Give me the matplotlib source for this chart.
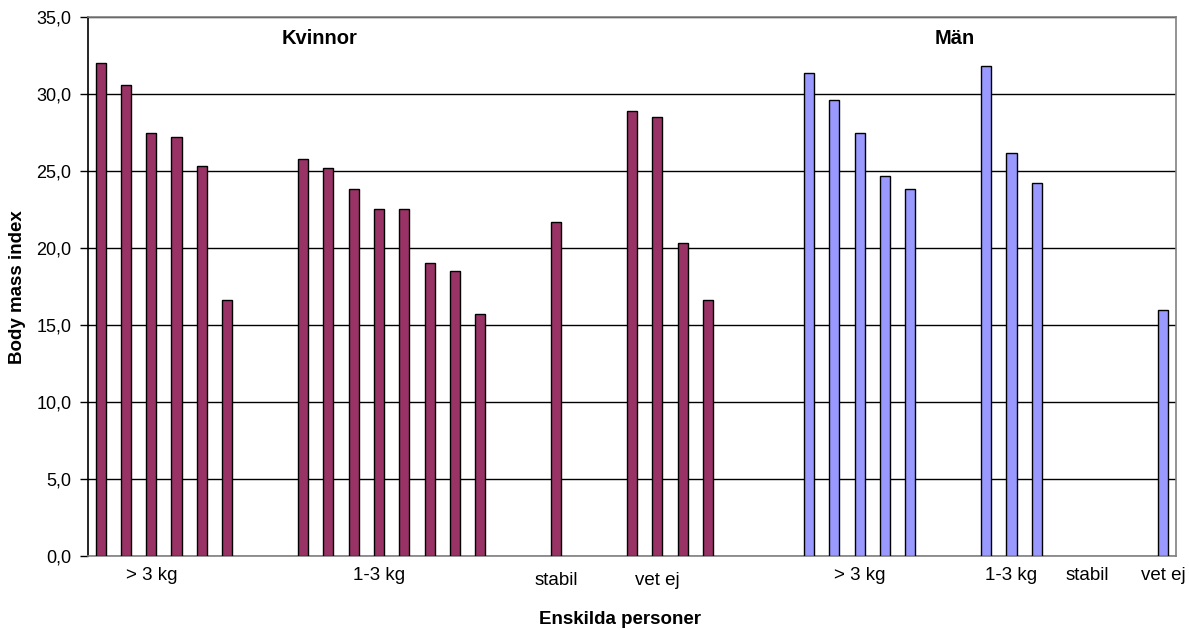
import matplotlib
matplotlib.use("Agg")
import matplotlib.pyplot as plt
import matplotlib.transforms as mtransforms
import numpy as np

plt.rcParams['font.family'] = ['Liberation Sans', 'DejaVu Sans']

# Body mass index per person, grouped by weight change (women, then men)
women_gt3 = [32.0, 30.6, 27.45, 27.2, 25.3, 16.6]
women_1to3 = [25.8, 25.2, 23.8, 22.55, 22.55, 19.0, 18.5, 15.7]
women_stable = [21.7]
women_unknown = [28.9, 28.5, 20.35, 16.6]
men_gt3 = [31.35, 29.6, 27.45, 24.7, 23.8]
men_1to3 = [31.8, 26.2, 24.2]
men_stable = []
men_unknown = [15.95]

group_names = ['> 3 kg', '1-3 kg', 'stabil', 'vet ej']

# Worksheet row layout: blank rows separate the groups
women_groups = [women_gt3, women_1to3, women_stable, women_unknown]
men_groups = [men_gt3, men_1to3, men_stable, men_unknown]
women_gaps = [2, 2, 2, 3]          # blank rows after each women's group
men_gaps = [2, 0, 0, 0]            # blank rows after each men's group
men_group_rows = [5, 3, 4, 1]      # rows used by each men's group
women_label_offsets = [2, 3, 0, 1]
men_label_offsets = [2, 1, 1, 0]

rows_sex, rows_val, category_labels = [], [], []
for grp, gap, name, lo in zip(women_groups, women_gaps, group_names, women_label_offsets):
    start = len(rows_val)
    for v in grp:
        rows_sex.append('F'); rows_val.append(v); category_labels.append('')
    for _ in range(gap):
        rows_sex.append(''); rows_val.append(np.nan); category_labels.append('')
    category_labels[start + lo] = name
for grp, gap, nrows, name, lo in zip(men_groups, men_gaps, men_group_rows,
                                     group_names, men_label_offsets):
    start = len(rows_val)
    for _ in range(nrows - len(grp)):
        rows_sex.append(''); rows_val.append(np.nan); category_labels.append('')
    for v in grp:
        rows_sex.append('M'); rows_val.append(v); category_labels.append('')
    for _ in range(gap):
        rows_sex.append(''); rows_val.append(np.nan); category_labels.append('')
    category_labels[start + lo] = name

n = len(category_labels)
x = np.arange(n)
rows_val = np.array(rows_val, dtype=float)
rows_sex = np.array(rows_sex)

WOMEN_COLOR = '#993366'
MEN_COLOR = '#9999FF'

fig = plt.figure(figsize=(11.89, 6.30), dpi=100)
ax = fig.add_axes([88 / 1189, 74 / 630, 1088 / 1189, 539 / 630])

fm = rows_sex == 'F'
mm = rows_sex == 'M'
ax.bar(x[fm], rows_val[fm], width=0.4, color=WOMEN_COLOR,
       edgecolor='black', linewidth=1.0, zorder=3)
ax.bar(x[mm], rows_val[mm], width=0.4, color=MEN_COLOR,
       edgecolor='black', linewidth=1.0, zorder=3)

ax.set_xlim(-0.5, n - 0.5)
ax.set_ylim(0, 35)
yt = np.arange(0, 35.1, 5)
ax.set_yticks(yt)
ax.set_yticklabels([f"{v:.1f}".replace('.', ',') for v in yt])
ax.yaxis.grid(True, color='black', linewidth=1.0, zorder=0)
ax.set_axisbelow(True)

tick_pos = [i for i, s in enumerate(category_labels) if s]
ax.set_xticks(tick_pos)
ax.set_xticklabels([category_labels[i] for i in tick_pos])
ax.tick_params(axis='x', length=0, pad=8, labelsize=13.5)
ax.tick_params(axis='y', length=6, width=1, pad=6, labelsize=13, direction='out')

# The women's "stabil" and "vet ej" labels sit a little lower
for lbl, pos in zip(ax.get_xticklabels(), tick_pos):
    if category_labels[pos] in ('stabil', 'vet ej') and rows_sex[pos] != 'M' and pos < 28:
        off = mtransforms.ScaledTranslation(0, -5 / 100, fig.dpi_scale_trans)
        lbl.set_transform(lbl.get_transform() + off)

for side in ('top', 'right', 'bottom'):
    ax.spines[side].set_color('#808080')
    ax.spines[side].set_linewidth(1.2)
ax.spines['left'].set_color('black')
ax.spines['left'].set_linewidth(1.2)

ax.text(0.213, 0.961, 'Kvinnor', transform=ax.transAxes, ha='center', va='center',
        fontsize=14.5, fontweight='bold')
ax.text(0.797, 0.961, 'Män', transform=ax.transAxes, ha='center', va='center',
        fontsize=14.5, fontweight='bold')

fig.text(620 / 1189, 1 - 620 / 630, 'Enskilda personer', ha='center', va='center',
         fontsize=13.5, fontweight='bold')
fig.text(18 / 1189, 1 - 287 / 630, 'Body mass index', ha='center', va='center',
         rotation=90, fontsize=13.5, fontweight='bold')

fig.savefig('out.png', dpi=100)
